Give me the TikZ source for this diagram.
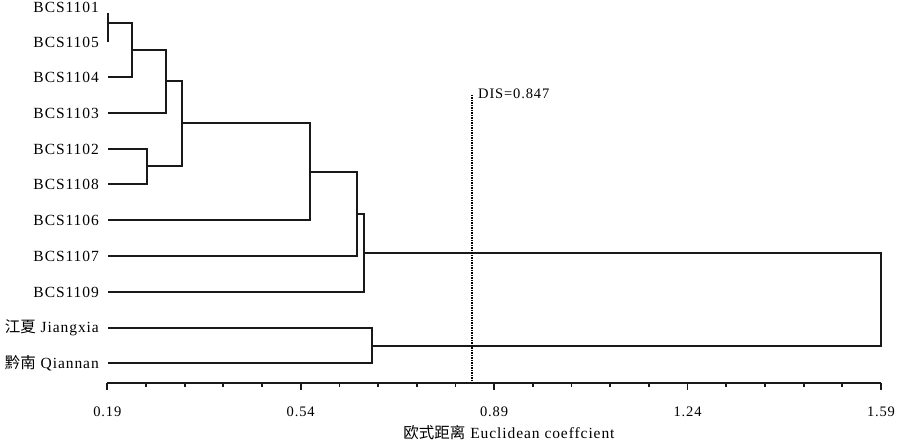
\documentclass[tikz,border=0pt]{standalone}
\usepackage{fontspec}
\setmainfont{Liberation Serif}[LetterSpace=6]
\newfontfamily\cjk{Noto Sans CJK SC}
\begin{document}
\begin{tikzpicture}[x=1pt,y=-1pt,
  leaf/.style={anchor=east,inner sep=0pt,font=\fontsize{15.5}{17}\selectfont},
  tick/.style={anchor=center,inner sep=0pt,font=\fontsize{14.5}{16}\selectfont},
  tree/.style={line width=2pt,black!90},
  axisline/.style={line width=1.8pt,black!90},
  cutline/.style={line width=1.6pt,dash pattern=on 1.2pt off 1.3pt}]
\useasboundingbox (0,0) rectangle (900,443);
% leaf labels
\node[leaf] (n1101) at (99,7) {BCS1101};
\node[leaf] (n1105) at (99,42) {BCS1105};
\node[leaf] (n1104) at (99,77) {BCS1104};
\node[leaf] (n1103) at (99,113) {BCS1103};
\node[leaf] (n1102) at (99,149) {BCS1102};
\node[leaf] (n1108) at (99,184) {BCS1108};
\node[leaf] (n1106) at (99,220) {BCS1106};
\node[leaf] (n1107) at (99,256) {BCS1107};
\node[leaf] (n1109) at (99,292) {BCS1109};
\node[leaf] (njx) at (99,328) {{\cjk 江夏} Jiangxia};
\node[leaf] (nqn) at (99,363) {{\cjk 黔南} Qiannan};
% leaf line starts
\coordinate (c1101) at (108,13);
\coordinate (c1105) at (108,42);
\coordinate (c1104) at (108,77);
\coordinate (c1103) at (108,113);
\coordinate (c1102) at (108,149);
\coordinate (c1108) at (108,184);
\coordinate (c1106) at (108,220);
\coordinate (c1107) at (108,256);
\coordinate (c1109) at (108,292);
\coordinate (cjx) at (108,328);
\coordinate (cqn) at (108,363);
% joins
\coordinate (jA) at (108,22.7);
\coordinate (jB) at (132,50);
\coordinate (jC) at (166,81);
\coordinate (jD) at (147,166);
\coordinate (jE) at (182,123);
\coordinate (jF) at (310,172);
\coordinate (jG) at (357,214);
\coordinate (jH) at (364,253);
\coordinate (jI) at (372,346);
\coordinate (jR) at (881,300);
% tree
\draw[tree] (c1101) -- (c1105);
\draw[tree] (jA) -| (jB) |- (c1104);
\draw[tree] (jB) -| (jC) |- (c1103);
\draw[tree] (c1102) -| (jD) |- (c1108);
\draw[tree] (jC) -| (jE) |- (jD);
\draw[tree] (jE) -| (jF) |- (c1106);
\draw[tree] (jF) -| (jG) |- (c1107);
\draw[tree] (jG) -| (jH) |- (c1109);
\draw[tree] (cjx) -| (jI) |- (cqn);
\draw[tree] (jH) -| (jR) |- (jI);
% cut line
\coordinate (cutTop) at (472,95);
\coordinate (cutBot) at (472,382);
\draw[cutline] (cutTop) -- (cutBot);
\node[anchor=west,inner sep=0pt,font=\fontsize{14.5}{16}\selectfont] (dis) at (478,94) {DIS=0.847};
% axis
\coordinate (ax0) at (107.3,382.7);
\coordinate (ax1) at (881,382.7);
\draw[axisline] (ax0) -- (ax1);
\foreach \i in {0,...,20}{
  \pgfmathsetmacro{\xx}{107.3+\i*38.685}
  \pgfmathtruncatemacro{\mj}{mod(\i,5)==0}
  \ifnum\mj=1
    \draw[axisline] (\xx,382.7) -- (\xx,390.5);
  \else
    \draw[axisline] (\xx,382.7) -- (\xx,387);
  \fi
}
\node[tick] (t1) at (107.3,411.5) {0.19};
\node[tick] (t2) at (300.7,411.5) {0.54};
\node[tick] (t3) at (494.1,411.5) {0.89};
\node[tick] (t4) at (687.6,411.5) {1.24};
\node[tick] (t5) at (881,411.5) {1.59};
\node[anchor=center,inner sep=0pt,font=\fontsize{15.5}{17}\selectfont] (title) at (509,433) {{\cjk 欧式距离} Euclidean coeffcient};
\end{tikzpicture}
\end{document}
